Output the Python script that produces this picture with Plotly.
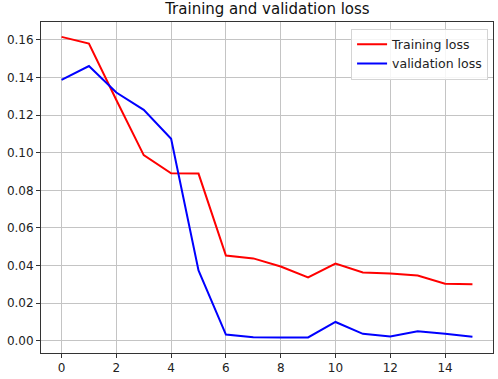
import plotly.graph_objects as go

epochs = list(range(16))
training_loss = [0.1616, 0.158, 0.128, 0.0987, 0.0891, 0.0889, 0.0453, 0.0438, 0.0395,
                 0.0337, 0.041, 0.0363, 0.0358, 0.0347, 0.0303, 0.030]
validation_loss = [0.1387, 0.1461, 0.132, 0.1228, 0.1074, 0.0374, 0.0033, 0.0019, 0.0018,
                   0.0018, 0.0100, 0.0037, 0.0023, 0.0051, 0.0037, 0.0021]
x_ticks = [0, 2, 4, 6, 8, 10, 12, 14]
y_ticks = [0.00, 0.02, 0.04, 0.06, 0.08, 0.10, 0.12, 0.14, 0.16]

fig = go.Figure()
fig.add_trace(go.Scatter(x=epochs, y=training_loss, mode="lines", name="Training loss",
                         line=dict(color="#ff0000", width=2)))
fig.add_trace(go.Scatter(x=epochs, y=validation_loss, mode="lines", name="validation loss",
                         line=dict(color="#0000ff", width=2)))

font = "DejaVu Sans, sans-serif"
fig.update_layout(
    width=498, height=379,
    margin=dict(l=41, r=4, t=22, b=23),
    paper_bgcolor="white", plot_bgcolor="white",
    font=dict(family=font, size=12, color="#222222"),
    title=dict(text="Training and validation loss", x=0.537, xanchor="center",
               xref="container", y=0.976, yanchor="middle",
               font=dict(size=15, color="#111111")),
    showlegend=True,
    legend=dict(x=0.686, y=0.98, xanchor="left", yanchor="top",
                bgcolor="rgba(255,255,255,0.85)", bordercolor="#d4d4d4", borderwidth=1,
                font=dict(size=12.5), itemwidth=30, tracegroupgap=0),
)
fig.update_xaxes(range=[-0.75, 15.75], tickvals=x_ticks, showgrid=True, gridcolor="#c4c4c4",
                 gridwidth=1, showline=True, linecolor="#333333", linewidth=1, mirror=True,
                 ticks="outside", ticklen=4, tickcolor="#333333", zeroline=False)
fig.update_yaxes(range=[-0.0065, 0.1695], tickvals=y_ticks, tickformat=".2f", showgrid=True,
                 gridcolor="#c4c4c4", gridwidth=1, showline=True, linecolor="#333333",
                 linewidth=1, mirror=True, ticks="outside", ticklen=4, tickcolor="#333333",
                 zeroline=False)

fig.write_html("out.html", config={"displayModeBar": False},
               post_script="document.body.style.margin='0px';")
